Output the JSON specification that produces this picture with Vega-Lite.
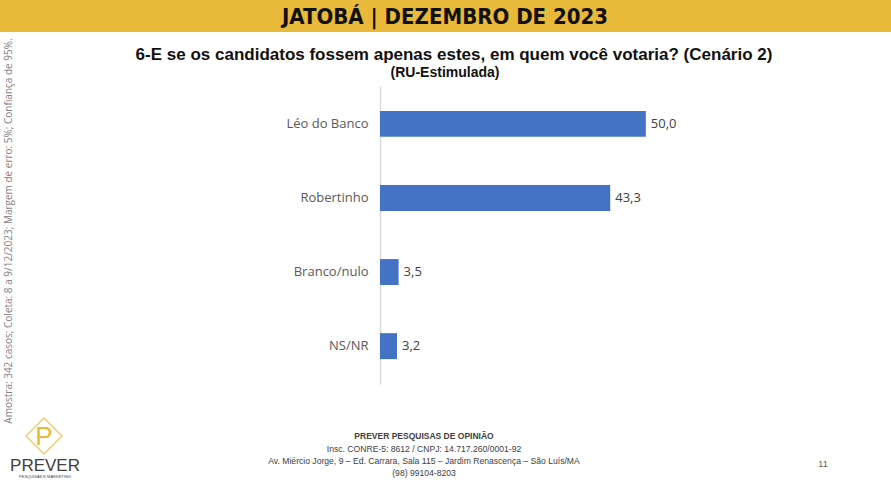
{
  "$schema": "https://vega.github.io/schema/vega-lite/v6.json",
  "width": 319,
  "height": 298,
  "autosize": "none",
  "padding": {"left": 380, "top": 86, "right": 192, "bottom": 97},
  "background": "white",
  "config": {
    "view": {"stroke": null},
    "locale": {"number": {"decimal": ",", "thousands": ".", "grouping": [3], "currency": ["R$", ""]}}
  },
  "data": {"values": [
    {"opcao": "Léo do Banco", "pct": 50.0},
    {"opcao": "Robertinho", "pct": 43.3},
    {"opcao": "Branco/nulo", "pct": 3.5},
    {"opcao": "NS/NR", "pct": 3.2}
  ]},
  "encoding": {
    "y": {"field": "opcao", "type": "nominal", "sort": null,
      "scale": {"paddingInner": 0.65, "paddingOuter": 0.336},
      "axis": {"title": null, "ticks": false, "domainColor": "#D9D9D9", "domainWidth": 1.5,
        "labelColor": "#595959", "labelFontSize": 13, "labelFont": "Open Sans", "labelPadding": 12}},
    "x": {"field": "pct", "type": "quantitative", "scale": {"domain": [0, 60]}, "axis": null}
  },
  "layer": [
    {"mark": {"type": "bar", "color": "#4472C4"}},
    {"mark": {"type": "text", "align": "left", "dx": 5, "fontSize": 13, "font": "Open Sans", "color": "#404040"},
      "encoding": {"text": {"field": "pct", "type": "quantitative", "format": ".1f"}}},
    {"data": {"values": [{}]}, "mark": {"type": "rect", "color": "#E9B93A"},
      "encoding": {"x": {"value": -380}, "x2": {"value": 511}, "y": {"value": -86}, "y2": {"value": -54}}},
    {"data": {"values": [{}]}, "mark": {"type": "text", "text": "JATOBÁ | DEZEMBRO DE 2023", "font": "DejaVu Sans Condensed", "fontWeight": "bold", "fontSize": 22, "color": "#111111", "align": "center", "baseline": "middle"},
      "encoding": {"x": {"value": 65}, "y": {"value": -69}}},
    {"data": {"values": [{}]}, "mark": {"type": "text", "text": "6-E se os candidatos fossem apenas estes, em quem você votaria? (Cenário 2)", "font": "Liberation Sans", "fontWeight": "bold", "fontSize": 17, "color": "#111111", "align": "center", "baseline": "middle"},
      "encoding": {"x": {"value": 74}, "y": {"value": -31}}},
    {"data": {"values": [{}]}, "mark": {"type": "text", "text": "(RU-Estimulada)", "font": "Liberation Sans", "fontWeight": "bold", "fontSize": 14, "color": "#111111", "align": "center", "baseline": "middle"},
      "encoding": {"x": {"value": 65}, "y": {"value": -13}}},
    {"data": {"values": [{}]}, "mark": {"type": "text", "text": "Amostra: 342 casos; Coleta: 8 a 9/12/2023; Margem de erro: 5%; Confiança de 95%.", "font": "Open Sans", "fontSize": 10, "color": "#7F7F7F", "align": "center", "baseline": "middle", "angle": 270},
      "encoding": {"x": {"value": -371}, "y": {"value": 145}}},
    {"data": {"values": [{}]}, "mark": {"type": "text", "text": "PREVER PESQUISAS DE OPINIÃO", "font": "Liberation Sans", "fontWeight": "bold", "fontSize": 8.5, "color": "#404040", "align": "center", "baseline": "middle"},
      "encoding": {"x": {"value": 44}, "y": {"value": 350}}},
    {"data": {"values": [{}]}, "mark": {"type": "text", "text": "Insc. CONRE-5: 8612 / CNPJ: 14.717.260/0001-92", "font": "Liberation Sans", "fontSize": 8.6, "color": "#404040", "align": "center", "baseline": "middle"},
      "encoding": {"x": {"value": 44}, "y": {"value": 363}}},
    {"data": {"values": [{}]}, "mark": {"type": "text", "text": "Av. Miércio Jorge, 9 – Ed. Carrara, Sala 115 – Jardim Renascença – São Luís/MA", "font": "Liberation Sans", "fontSize": 8.6, "color": "#404040", "align": "center", "baseline": "middle"},
      "encoding": {"x": {"value": 44}, "y": {"value": 375}}},
    {"data": {"values": [{}]}, "mark": {"type": "text", "text": "(98) 99104-8203", "font": "Liberation Sans", "fontSize": 8.6, "color": "#404040", "align": "center", "baseline": "middle"},
      "encoding": {"x": {"value": 44}, "y": {"value": 387}}},
    {"data": {"values": [{}]}, "mark": {"type": "text", "text": "11", "font": "Liberation Sans", "fontSize": 9, "color": "#595959", "align": "center", "baseline": "middle"},
      "encoding": {"x": {"value": 443}, "y": {"value": 378}}},
    {"data": {"values": [{}]}, "mark": {"type": "point", "shape": "diamond", "size": 1300, "filled": false, "stroke": "#E9B93A", "strokeWidth": 1.5, "strokeJoin": "round"},
      "encoding": {"x": {"value": -336}, "y": {"value": 350}}},
    {"data": {"values": [{}]}, "mark": {"type": "text", "text": "P", "font": "Liberation Sans", "fontSize": 26, "color": "#E9B93A", "align": "center", "baseline": "middle"},
      "encoding": {"x": {"value": -336}, "y": {"value": 351}}},
    {"data": {"values": [{}]}, "mark": {"type": "text", "text": "PREVER", "font": "Liberation Sans", "fontSize": 17, "color": "#404040", "align": "center", "baseline": "middle"},
      "encoding": {"x": {"value": -335}, "y": {"value": 380}}},
    {"data": {"values": [{}]}, "mark": {"type": "text", "text": "PESQUISAS E MARKETING", "font": "Liberation Sans", "fontSize": 4, "color": "#404040", "align": "center", "baseline": "middle"},
      "encoding": {"x": {"value": -335}, "y": {"value": 391}}}
  ]
}
